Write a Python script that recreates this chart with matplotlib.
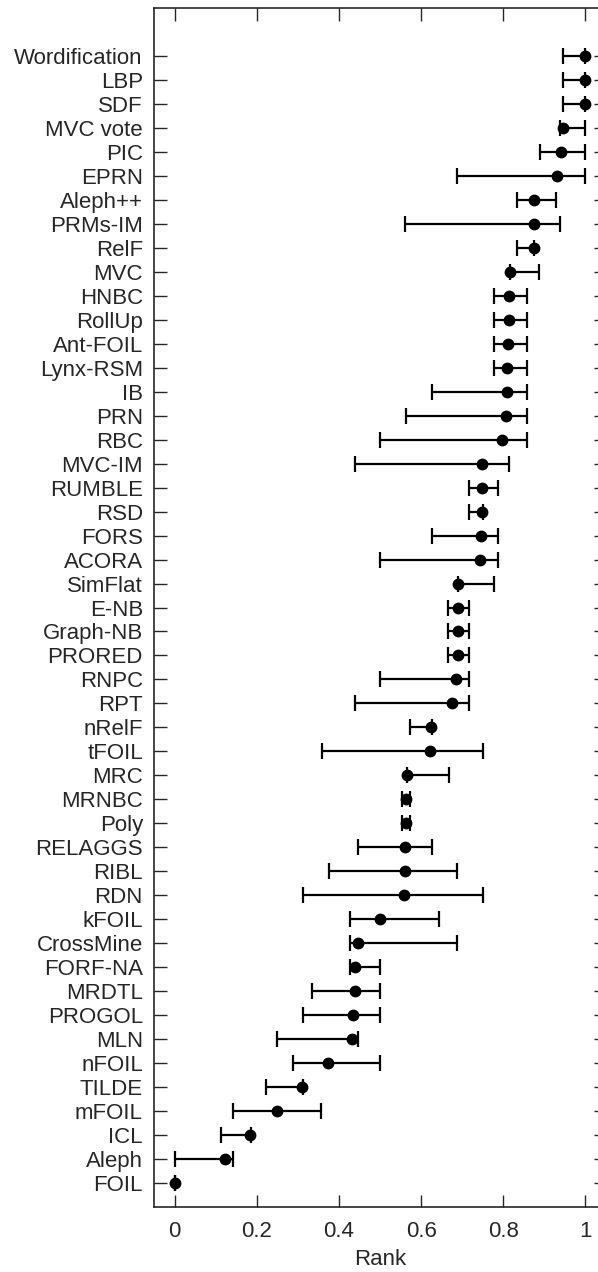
import numpy as np
import matplotlib
matplotlib.use("Agg")
import matplotlib.pyplot as plt

plt.rcParams['font.family'] = ['Liberation Sans', 'DejaVu Sans']

# methods listed top to bottom
metodos = ["Wordification", "LBP", "SDF", "MVC vote", "PIC", "EPRN", "Aleph++",
           "PRMs-IM", "RelF", "MVC", "HNBC", "RollUp", "Ant-FOIL", "Lynx-RSM",
           "IB", "PRN", "RBC", "MVC-IM", "RUMBLE", "RSD", "FORS", "ACORA",
           "SimFlat", "E-NB", "Graph-NB", "PRORED", "RNPC", "RPT", "nRelF",
           "tFOIL", "MRC", "MRNBC", "Poly", "RELAGGS", "RIBL", "RDN", "kFOIL",
           "CrossMine", "FORF-NA", "MRDTL", "PROGOL", "MLN", "nFOIL", "TILDE",
           "mFOIL", "ICL", "Aleph", "FOIL"]

rango = [1.0, 1.0, 1.0, 0.945, 0.941, 0.930, 0.875,
         0.874, 0.874, 0.817, 0.814, 0.814, 0.812, 0.810,
         0.810, 0.806, 0.798, 0.749, 0.749, 0.748, 0.746, 0.743,
         0.691, 0.689, 0.689, 0.689, 0.685, 0.675, 0.624,
         0.621, 0.566, 0.563, 0.563, 0.562, 0.562, 0.558, 0.500,
         0.446, 0.439, 0.438, 0.434, 0.433, 0.374, 0.309,
         0.250, 0.183, 0.123, 0.0]

minimo = [0.946, 0.946, 0.946, 0.938, 0.890, 0.688, 0.834,
          0.562, 0.834, 0.817, 0.777, 0.777, 0.777, 0.777,
          0.626, 0.563, 0.501, 0.438, 0.716, 0.716, 0.626, 0.501,
          0.691, 0.666, 0.666, 0.666, 0.501, 0.438, 0.572,
          0.358, 0.566, 0.554, 0.554, 0.446, 0.376, 0.313, 0.428,
          0.428, 0.428, 0.334, 0.313, 0.250, 0.288, 0.222,
          0.143, 0.112, 0.0, 0.0]

maximo = [1.0, 1.0, 1.0, 1.0, 1.0, 1.0, 0.929,
          0.938, 0.875, 0.888, 0.857, 0.857, 0.857, 0.857,
          0.857, 0.857, 0.857, 0.814, 0.786, 0.750, 0.786, 0.786,
          0.778, 0.716, 0.716, 0.716, 0.716, 0.716, 0.626,
          0.750, 0.668, 0.572, 0.572, 0.626, 0.688, 0.750, 0.643,
          0.688, 0.500, 0.500, 0.500, 0.446, 0.500, 0.312,
          0.357, 0.186, 0.143, 0.0]

n = len(metodos)
y = np.arange(n, 0, -1)
rango = np.array(rango)
err = [rango - np.array(minimo), np.array(maximo) - rango]

gris = '#262626'
fig = plt.figure(figsize=(5.98, 12.72), dpi=100)
ax = fig.add_axes([154 / 598, 65 / 1272, 452 / 598, 1199 / 1272])

ax.errorbar(rango, y, xerr=err, fmt='o', color='black', ecolor='black',
            markersize=7.5, elinewidth=1.6, capsize=6, capthick=1.6)

ax.set_xlim(-0.05, 1.05)
ax.set_ylim(0, n + 2)
ax.set_yticks(y)
ax.set_yticklabels(metodos)
ax.set_xticks([0, 0.2, 0.4, 0.6, 0.8, 1])
ax.set_xticklabels(["0", "0.2", "0.4", "0.6", "0.8", "1"])
ax.set_xlabel("Rank", fontsize=16, color=gris, labelpad=5)

ax.tick_params(direction='in', length=9, width=1, top=True, right=True,
               colors=gris, labelsize=16, pad=8)
ax.tick_params(axis='x', pad=10)
for s in ax.spines.values():
    s.set_color(gris)
    s.set_linewidth(1.2)

fig.savefig("out.png", dpi=100)
